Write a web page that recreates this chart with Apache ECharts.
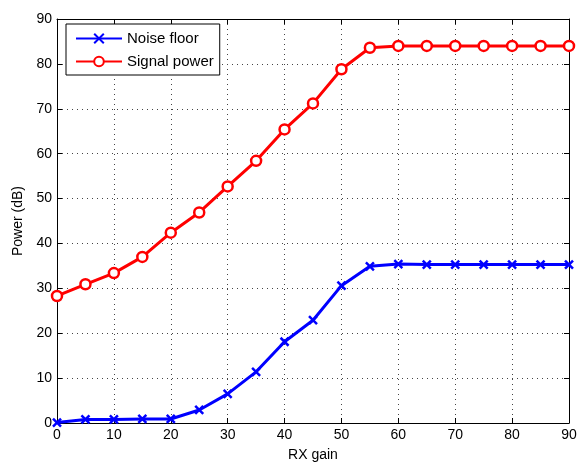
<!DOCTYPE html>
<html><head><meta charset="utf-8">
<script src="https://cdn.jsdelivr.net/npm/echarts@6/dist/echarts.min.js"></script>
<style>html,body{margin:0;padding:0;background:#fff}#c{width:579px;height:465px}</style>
</head><body><div id="c"></div>
<script>
const gains = [0,5,10,15,20,25,30,35,40,45,50,55,60,65,70,75,80,85,90];
const noiseFloor = [0.1,0.8,0.8,0.9,0.9,2.9,6.5,11.4,18.1,22.9,30.6,34.9,35.4,35.3,35.3,35.3,35.3,35.3,35.3];
const signalPower = [28.3,30.9,33.4,37.0,42.4,46.9,52.7,58.4,65.4,71.2,78.8,83.6,84.0,84.0,84.0,84.0,84.0,84.0,84.0];
const xTicks = [0,10,20,30,40,50,60,70,80,90];
const yTicks = [0,10,20,30,40,50,60,70,80,90];

const font = 'Liberation Sans, Arial, Helvetica, sans-serif';
const chart = echarts.init(document.getElementById('c'), null, {renderer:'canvas'});
const axisCommon = {
  type:'value', min:0, max:90, interval:10,
  axisLine:{show:true, onZero:false, lineStyle:{color:'#000', width:1}},
  axisTick:{show:true, inside:true, length:5, lineStyle:{color:'#000'}},
};
chart.setOption({
  animation:false,
  textStyle:{fontFamily:font},
  grid:{left:57, right:10, top:19, bottom:42, containLabel:false, outerBoundsMode:'none'},
  legend:{
    orient:'vertical', left:66, top:24, padding:[7,6,6,9], itemGap:8,
    itemWidth:46, itemHeight:12,
    borderColor:'#000', borderWidth:1, backgroundColor:'#fff',
    textStyle:{fontFamily:font, fontSize:15, color:'#000'},
    data:['Noise floor','Signal power']
  },
  xAxis:[
    Object.assign({}, axisCommon, {
      position:'bottom', name:'RX gain', nameLocation:'middle', nameGap:25,
      nameTextStyle:{fontFamily:font, fontSize:14, color:'#000'},
      axisLabel:{fontFamily:font, fontSize:14, color:'#000', margin:5,
        formatter:v=> xTicks.includes(v) ? String(v) : ''},
      splitLine:{show:true, lineStyle:{color:'#444', type:[1,4], width:1}}
    }),
    Object.assign({}, axisCommon, {position:'top', axisLabel:{show:false}, splitLine:{show:false}})
  ],
  yAxis:[
    Object.assign({}, axisCommon, {
      position:'left', name:'Power (dB)', nameLocation:'middle', nameGap:31,
      nameTextStyle:{fontFamily:font, fontSize:14, color:'#000'},
      axisLabel:{fontFamily:font, fontSize:14, color:'#000', margin:5,
        formatter:v=> yTicks.includes(v) ? String(v) : ''},
      splitLine:{show:true, lineStyle:{color:'#444', type:[1,4], width:1}}
    }),
    Object.assign({}, axisCommon, {position:'right', axisLabel:{show:false}, splitLine:{show:false}})
  ],
  series:[
    {
      name:'Noise floor', type:'line', xAxisIndex:0, yAxisIndex:0,
      data: gains.map((g,i)=>[g, noiseFloor[i]]),
      lineStyle:{color:'#0000ff', width:3},
      symbol:'path://M0,0L10,10M10,0L0,10', symbolSize:8,
      itemStyle:{color:'#0000ff', borderColor:'#0000ff', borderWidth:2.5},
      z:3
    },
    {
      name:'Signal power', type:'line', xAxisIndex:0, yAxisIndex:0,
      data: gains.map((g,i)=>[g, signalPower[i]]),
      lineStyle:{color:'#ff0000', width:3},
      symbol:'circle', symbolSize:10,
      itemStyle:{color:'#fff', borderColor:'#ff0000', borderWidth:2.5},
      z:3
    }
  ]
});
</script></body></html>
